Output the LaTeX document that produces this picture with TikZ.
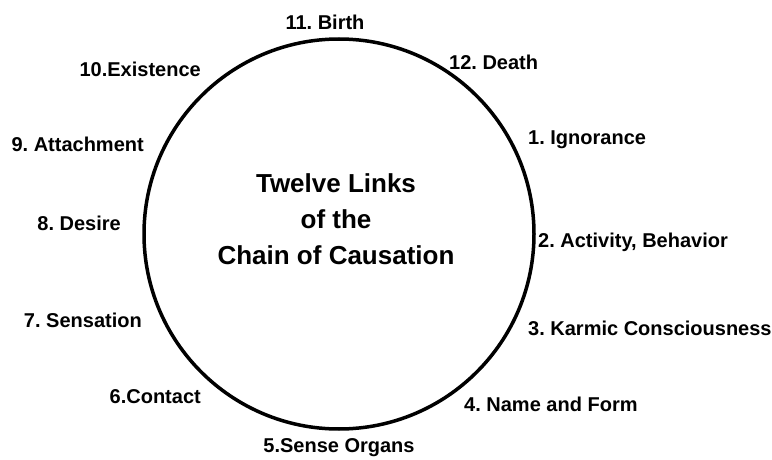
\documentclass[tikz,border=0pt]{standalone}
\usepackage{fontspec}
\setmainfont{Liberation Sans}
\frenchspacing
\begin{document}
\begin{tikzpicture}[x=1pt,y=1pt,
		glied/.style={font=\bfseries\fontsize{20}{22}\selectfont, inner sep=0pt},
		titel/.style={font=\bfseries\fontsize{26}{36}\selectfont, align=center, inner sep=0pt}]
		\useasboundingbox (0,0) rectangle (772,459);
		
		% Kreis
		\node[circle, draw, line width=3.5pt, minimum size=390pt] (kreis) at (339,225) {};
		
		% Titel
		\node[titel] (titel) at (336,240) {Twelve Links\\of the\\Chain of Causation};
		
		% Glieder rechts
		\node[glied, anchor=west] (tod) at (449,397) {12. Death};
		\node[glied, anchor=west] (g1) at (528,319) {1. Ignorance};
		\node[glied, anchor=west] (g2) at (538,217) {2. Activity, Behavior};
		\node[glied, anchor=west] (g3) at (528,131) {3. Karmic Consciousness};
		\node[glied, anchor=west] (g4) at (464,55) {4. Name and Form};
		
		% Glieder links
		\node[glied, anchor=east] (g10) at (201,390) {10.Existence};
		\node[glied, anchor=east] (g9) at (144,315) {9. Attachment};
		\node[glied, anchor=east] (g8) at (121,236) {8. Desire};
		\node[glied, anchor=east] (g7) at (142,139) {7. Sensation};
		\node[glied, anchor=east] (g6) at (201,62) {6.Contact};
		
		% oben und unten
		\node[glied] (geburt) at (325,437) {11. Birth};
		\node[glied] (g5) at (339,11) {5.Sense Organs};
	\end{tikzpicture}
\end{document}
